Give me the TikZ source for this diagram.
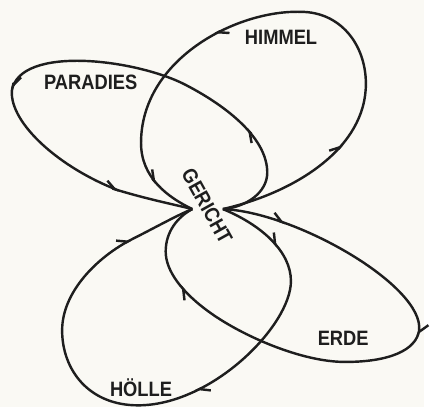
\documentclass[tikz,border=0pt]{standalone}
\usepackage{fontspec}
\newfontfamily\labelfont{Liberation Sans}[FakeStretch=0.88]
\usetikzlibrary{arrows.meta, decorations.markings}
\definecolor{paper}{RGB}{250,249,244}
\definecolor{ink}{RGB}{30,30,30}

\tikzset{
  loopline/.style={line width=1.4pt, draw=ink, postaction={decorate}},
  tag/.style={font=\labelfont\bfseries\fontsize{12}{14}\selectfont, text=ink, inner sep=0pt},
  barbs/.style n args={3}{decoration={markings,
      mark=at position #1 with {\arrow{Straight Barb[left,length=5.5pt,width=7pt]}},
      mark=at position #2 with {\arrow{Straight Barb[left,length=5.5pt,width=7pt]}},
      mark=at position #3 with {\arrow{Straight Barb[left,length=5.5pt,width=7pt]}}}},
}

\begin{document}
\begin{tikzpicture}[x=0.02cm, y=-0.02cm]
  % Paper
  \fill[paper] (0,0) rectangle (430,413);
  % Meeting points either side of the judgement
  \coordinate (gl) at (195,212);
  \coordinate (gr) at (226,212);
  % Labels
  \node[tag] (himmel) at (285,38) {HIMMEL};
  \node[tag] (paradies) at (92,83) {PARADIES};
  \node[tag] (erde) at (348,343) {ERDE};
  \node[tag] (hoelle) at (143,393) {HÖLLE};
  \node[tag, rotate=-61] (gericht) at (210,209) {GERICHT};
  % Himmel loop
  \draw[loopline, barbs={0.22}{0.64}{0.93}] (gr)
    .. controls (300,195) and (371,150) .. (371,85)
    .. controls (371,45) and (345,12) .. (305,12)
    .. controls (240,10) and (143,60) .. (143,145)
    .. controls (143,180) and (170,200) .. (gl);
  % Paradies loop
  \draw[loopline, barbs={0.185}{0.62}{0.875}] (gr)
    .. controls (250,210) and (271,195) .. (271,175)
    .. controls (271,140) and (230,108) .. (190,87)
    .. controls (140,60) and (20,45) .. (12,92)
    .. controls (10,125) and (60,170) .. (120,193)
    .. controls (150,202) and (175,207) .. (gl);
  % Erde loop
  \draw[loopline, barbs={0.106}{0.41}{0.85}] (gr)
    .. controls (300,215) and (430,290) .. (425,335)
    .. controls (422,355) and (395,367) .. (350,367)
    .. controls (305,367) and (245,340) .. (213,317)
    .. controls (185,297) and (168,275) .. (168,255)
    .. controls (168,235) and (180,220) .. (gl);
  % Hoelle loop
  \draw[loopline, barbs={0.108}{0.41}{0.89}] (gr)
    .. controls (265,228) and (295,255) .. (295,285)
    .. controls (295,330) and (215,411) .. (140,411)
    .. controls (90,411) and (63,375) .. (63,335)
    .. controls (63,295) and (100,260) .. (133,243)
    .. controls (155,232) and (180,218) .. (gl);
\end{tikzpicture}
\end{document}
